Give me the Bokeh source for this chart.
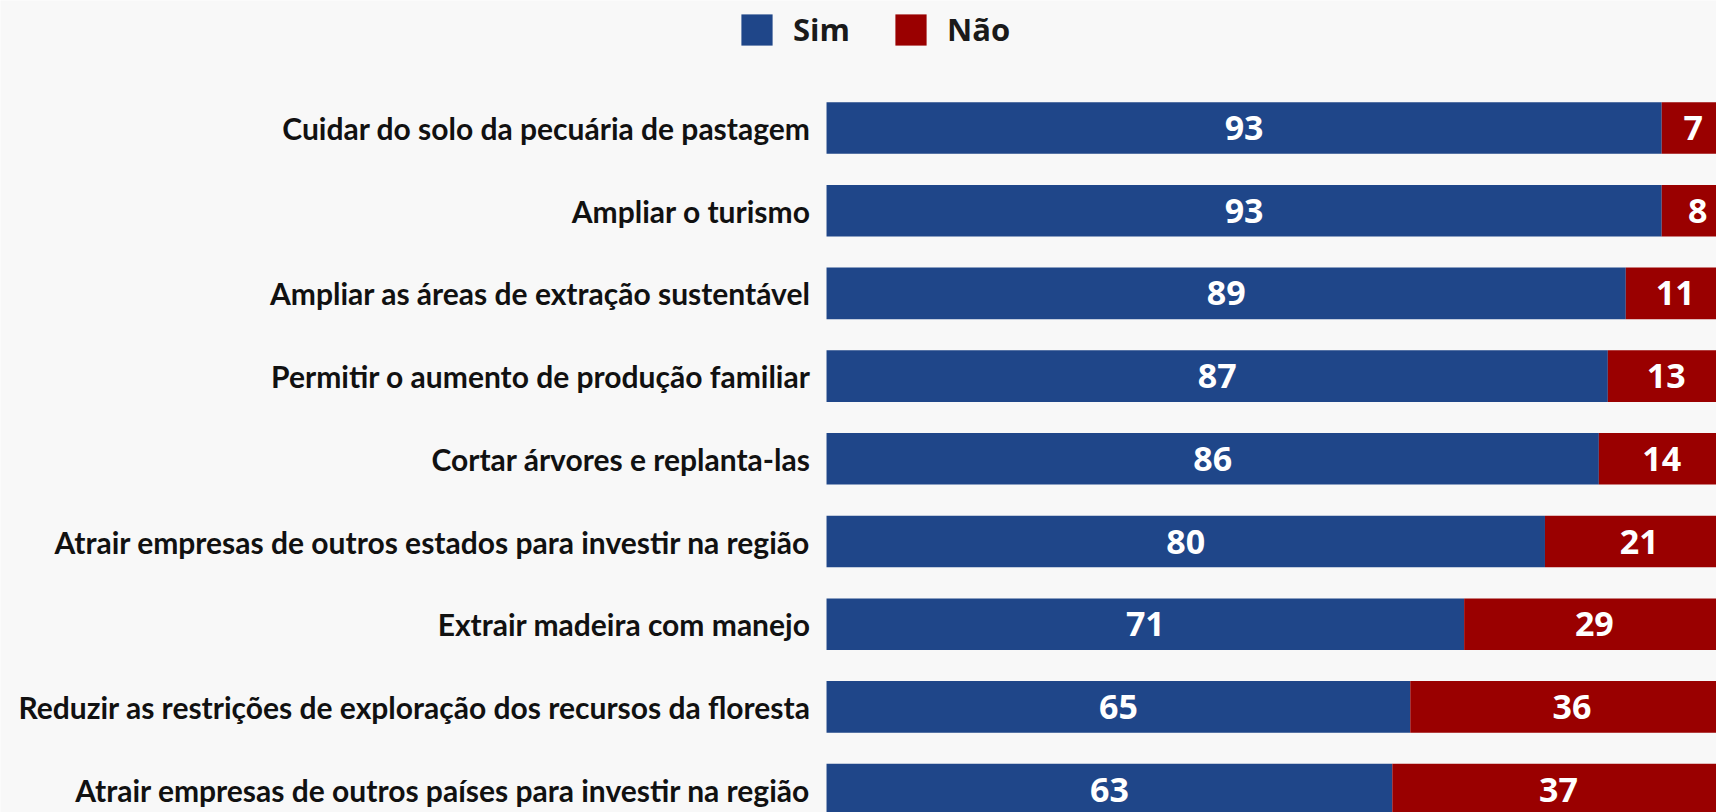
from bokeh.plotting import figure
from bokeh.models import Range1d, ColumnDataSource, Legend, LegendItem
from bokeh.core.properties import value
from bokeh.embed import file_html
from bokeh.resources import INLINE

categories = [
    "Cuidar do solo da pecuária de pastagem",
    "Ampliar o turismo",
    "Ampliar as áreas de extração sustentável",
    "Permitir o aumento de produção familiar",
    "Cortar árvores e replanta-las",
    "Atrair empresas de outros estados para investir na região",
    "Extrair madeira com manejo",
    "Reduzir as restrições de exploração dos recursos da floresta",
    "Atrair empresas de outros países para investir na região",
]
sim = [93, 93, 89, 87, 86, 80, 71, 65, 63]
nao = [7, 8, 11, 13, 14, 21, 29, 36, 37]
series_names = ["Sim", "Não"]

BLUE = "#1F4689"
RED = "#9A0000"
BG = "#F8F8F8"
LABEL_FONT = "Lato"
NUM_FONT = "Open Sans"

pos = list(range(len(categories)))
src = ColumnDataSource(dict(
    pos=pos,
    cat=categories,
    zero=[0] * len(pos),
    sim=sim,
    nao=nao,
    total=[s + n for s, n in zip(sim, nao)],
    sim_mid=[s / 2 for s in sim],
    nao_mid=[s + n / 2 for s, n in zip(sim, nao)],
    sim_lbl=[str(s) for s in sim],
    nao_lbl=[str(n) for n in nao],
))

p = figure(width=1716, height=812, output_backend="svg", toolbar_location=None,
           x_range=Range1d(-91.98, 99.1), y_range=Range1d(8.277, -1.542),
           x_axis_location=None, y_axis_location=None,
           min_border_left=0, min_border_right=0, min_border_top=0, min_border_bottom=0)
p.background_fill_color = BG
p.border_fill_color = BG
p.outline_line_color = None
p.xgrid.visible = False
p.ygrid.visible = False

bar_h = 0.624
r_sim = p.hbar(y="pos", left="zero", right="sim", height=bar_h, source=src,
               fill_color=BLUE, line_color=None)
r_nao = p.hbar(y="pos", left="sim", right="total", height=bar_h, source=src,
               fill_color=RED, line_color=None)

for xcol, tcol in (("sim_mid", "sim_lbl"), ("nao_mid", "nao_lbl")):
    p.text(x=xcol, y="pos", text=tcol, source=src, text_align="center",
           text_baseline="middle", text_color="white",
           text_font=value(NUM_FONT), text_font_size="34px", text_font_style="bold")

# category labels, right-aligned just left of the bars' origin
p.text(x="zero", y="pos", text="cat", source=src, x_offset=-16,
       text_align="right", text_baseline="middle", text_color="#111111",
       text_font=value(LABEL_FONT), text_font_size="30px", text_font_style="bold")

legend = Legend(items=[LegendItem(label=series_names[0], renderers=[r_sim]),
                       LegendItem(label=series_names[1], renderers=[r_nao])],
                orientation="horizontal", location=(737, 762),
                glyph_width=39, glyph_height=39, label_standoff=17, spacing=41,
                padding=0, margin=0, border_line_color=None, background_fill_alpha=0,
                label_text_font=NUM_FONT, label_text_font_size="31px",
                label_text_font_style="bold", label_text_color="#1a1a1a")
p.add_layout(legend)

open("out.html", "w").write(file_html(p, INLINE))
